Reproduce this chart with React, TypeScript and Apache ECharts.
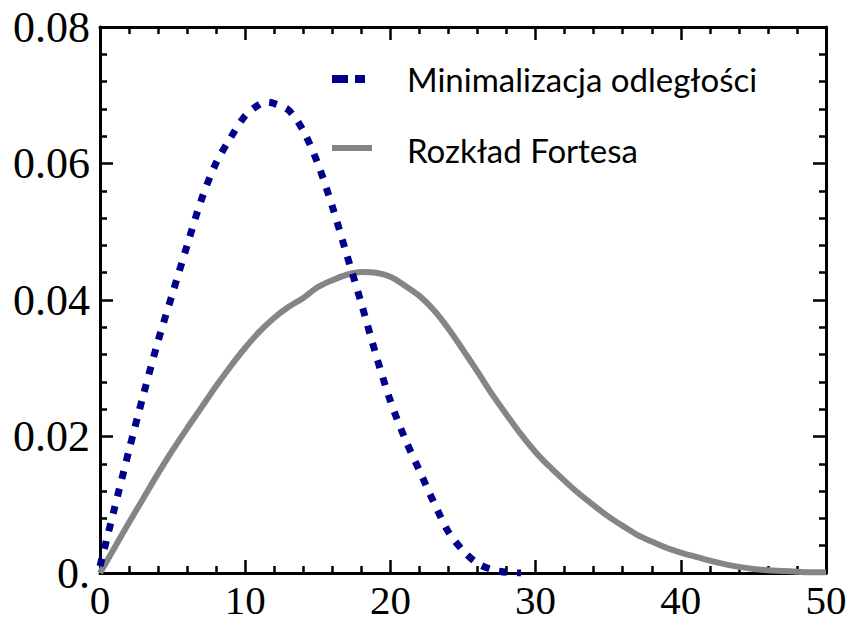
import React, { useEffect, useRef } from "react";
import * as echarts from "echarts";

const seriesNames = ["Minimalizacja odległości", "Rozkład Fortesa"];

const minX = [0, 1, 2, 3, 4, 5, 6, 7, 8, 9, 10, 11, 11.5, 12, 13, 14, 15, 16, 17, 18, 19, 20, 21, 22, 23, 24, 25, 26, 27, 28, 29];
const minY = [0.001, 0.0095, 0.018, 0.0262, 0.034, 0.041, 0.048, 0.0548, 0.0601, 0.0638, 0.067, 0.0687, 0.069, 0.0688, 0.0678, 0.0648, 0.06, 0.0537, 0.0466, 0.0395, 0.032, 0.0252, 0.0197, 0.015, 0.0103, 0.006, 0.0033, 0.0014, 0.0005, 0.0001, 0];

const fortX = [0, 1, 2, 3, 4, 5, 6, 7, 8, 9, 10, 11, 12, 13, 14, 15, 16, 17, 18, 19, 20, 21, 22, 23, 24, 25, 26, 27, 28, 29, 30, 31, 32, 33, 34, 35, 36, 37, 38, 39, 40, 41, 42, 43, 44, 45, 46, 47, 48, 49, 50];
const fortY = [0, 0.0037, 0.0074, 0.011, 0.0146, 0.018, 0.0212, 0.0243, 0.0274, 0.0303, 0.033, 0.0354, 0.0374, 0.039, 0.0403, 0.0419, 0.0429, 0.0437, 0.0441, 0.044, 0.0434, 0.0421, 0.0406, 0.0385, 0.0358, 0.0327, 0.0295, 0.0262, 0.0232, 0.0203, 0.0177, 0.0155, 0.0135, 0.0116, 0.0099, 0.0083, 0.0069, 0.0056, 0.0046, 0.0037, 0.003, 0.0024, 0.0018, 0.0013, 0.0009, 0.0006, 0.0004, 0.0003, 0.0002, 0.0001, 0.0001];

const xTicks = { min: 0, max: 50, interval: 10 };
const yTicks = { min: 0, max: 0.08, interval: 0.02 };

const BLUE = "#00008B";
const GRAY = "#858585";

export default function App() {
  const ref = useRef<HTMLDivElement>(null);
  useEffect(() => {
    document.body.style.margin = "0";
    const chart = echarts.init(ref.current!, null, { renderer: "svg" });
    const axisCommon = {
      axisLine: { show: true, onZero: false, lineStyle: { color: "#000", width: 3 } },
      axisTick: { show: true, inside: true, length: 13, lineStyle: { color: "#000", width: 2.5 } },
      minorTick: { show: true, splitNumber: 5, length: 7, lineStyle: { color: "#000", width: 2.5 } },
      splitLine: { show: false },
      minorSplitLine: { show: false },
    };
    const labelFont = { fontFamily: "Liberation Serif", fontSize: 44, color: "#000" };
    chart.setOption({
      animation: false,
      backgroundColor: "#fff",
      grid: { left: 100, right: 26, top: 27, bottom: 52, containLabel: false },
      xAxis: [
        {
          type: "value", ...xTicks, position: "bottom", ...axisCommon,
          axisLabel: { ...labelFont, fontSize: 41, margin: 9, lineHeight: 36, formatter: (v: number) => String(v) },
        },
        {
          type: "value", ...xTicks, position: "top", ...axisCommon,
          axisLabel: { show: false },
        },
      ],
      yAxis: [
        {
          type: "value", ...yTicks, position: "left", ...axisCommon,
          axisLabel: {
            ...labelFont, margin: 10,
            formatter: (v: number) => (v === 0 ? "0." : v.toFixed(2)),
          },
        },
        {
          type: "value", ...yTicks, position: "right", ...axisCommon,
          axisLabel: { show: false },
        },
      ],
      series: [
        {
          name: seriesNames[1], type: "line", xAxisIndex: 0, yAxisIndex: 0,
          data: fortX.map((x, i) => [x, fortY[i]]),
          showSymbol: false, symbol: "none", smooth: 0.3, z: 2,
          lineStyle: { color: GRAY, width: 6 },
        },
        {
          name: seriesNames[0], type: "line", xAxisIndex: 0, yAxisIndex: 0,
          data: minX.map((x, i) => [x, minY[i]]),
          showSymbol: false, symbol: "none", smooth: 0.3, z: 3,
          lineStyle: { color: BLUE, width: 7, type: [8, 10], cap: "butt" },
        },
      ],
      graphic: [
        { type: "line", shape: { x1: 332, y1: 79, x2: 365, y2: 79 }, style: { stroke: BLUE, lineWidth: 8, lineDash: [16, 7] } },
        { type: "text", x: 407, y: 79, style: { text: seriesNames[0], fontFamily: "Lato", fontSize: 33, fill: "#000", textVerticalAlign: "middle" } },
        { type: "line", shape: { x1: 332, y1: 148, x2: 372, y2: 148 }, style: { stroke: GRAY, lineWidth: 6 } },
        { type: "text", x: 407, y: 150, style: { text: seriesNames[1], fontFamily: "Lato", fontSize: 33, fill: "#000", textVerticalAlign: "middle" } },
      ],
    });
    return () => chart.dispose();
  }, []);
  return <div ref={ref} style={{ width: 852, height: 625 }} />;
}
